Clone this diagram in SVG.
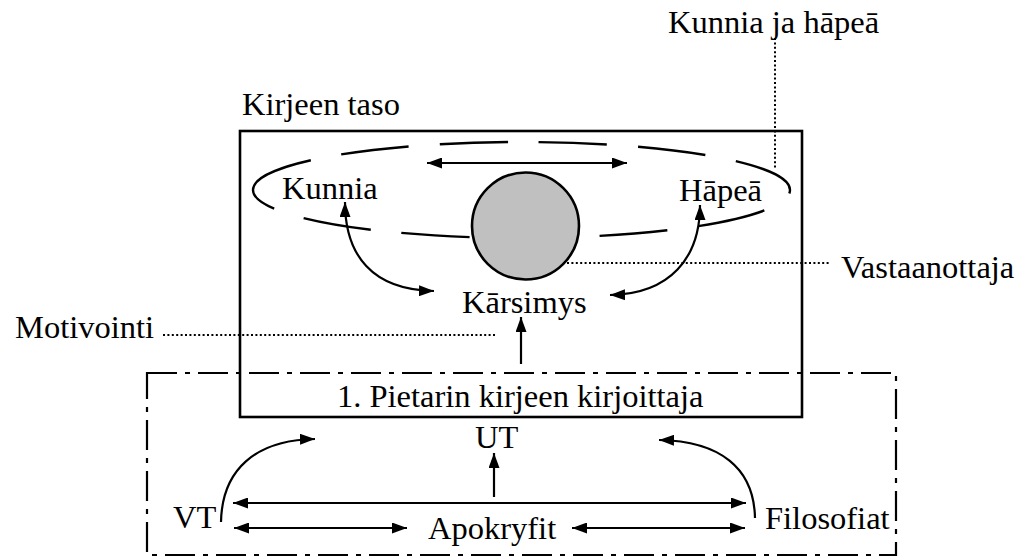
<svg xmlns="http://www.w3.org/2000/svg" width="1021" height="556" viewBox="0 0 1021 556">
<defs>
<marker id="ah" viewBox="0 0 15 11" refX="15" refY="5.5" markerWidth="15" markerHeight="11" markerUnits="userSpaceOnUse" orient="auto-start-reverse">
<path d="M0,0 L15,5.5 L0,11 Z" fill="#000"/>
</marker>
<style>
text{font-family:"Liberation Serif","Times New Roman",serif;font-size:32.5px;fill:#000}
.ln{fill:none;stroke:#000;stroke-width:2.2}
.arr{fill:none;stroke:#000;stroke-width:2.2;marker-end:url(#ah)}
.dbl{fill:none;stroke:#000;stroke-width:2.2;marker-start:url(#ah);marker-end:url(#ah)}
.dot{fill:none;stroke:#000;stroke-width:2;stroke-dasharray:2 2.4}
</style>
</defs>
<rect width="1021" height="556" fill="#fff"/>
<g id="outer-frame">
<rect x="147" y="373" width="749" height="182" fill="none" stroke="#000" stroke-width="2.2" stroke-dasharray="30 8 5 8"/>
</g>
<g id="letter-level">
<rect x="240" y="131" width="562" height="286" fill="none" stroke="#000" stroke-width="2.6"/>
<text x="242" y="115">Kirjeen taso</text>
</g>
<g id="honor-shame-ellipse">
<path d="M253,190 A268.5,48 0 1 1 790,190 A268.5,48 0 1 1 253,190" fill="none" stroke="#000" stroke-width="2.4" stroke-dasharray="68 31"/>
</g>
<g id="recipient">
<circle cx="525.5" cy="226" r="53.5" fill="#c0c0c0" stroke="#000" stroke-width="2.6"/>
</g>
<g id="kunnia"><text x="282" y="199">Kunnia</text></g>
<g id="hapea"><text x="679" y="201">Hāpeā</text></g>
<g id="karsimys"><text x="462" y="313">Kārsimys</text></g>
<g id="kunnia-ja-hapea"><text x="668" y="33">Kunnia ja hāpeā</text></g>
<g id="vastaanottaja"><text x="841" y="278">Vastaanottaja</text></g>
<g id="motivointi"><text x="15" y="338">Motivointi</text></g>
<g id="kirjoittaja"><text x="337" y="407">1. Pietarin kirjeen kirjoittaja</text></g>
<g id="ut"><text x="475" y="448">UT</text></g>
<g id="vt"><text x="173" y="528">VT</text></g>
<g id="apokryfit"><text x="428" y="539">Apokryfit</text></g>
<g id="filosofiat"><text x="765" y="529">Filosofiat</text></g>
<g id="connectors">
<path class="dot" d="M775,38 V170"/>
<path class="dot" d="M567,263 H830"/>
<path class="dot" d="M163,335 H497"/>
<path class="dbl" d="M427,163 H627"/>
<path class="dbl" d="M345,202 C345,255 372,290 434,291"/>
<path class="dbl" d="M700,205 C700,258 670,294 610,295"/>
<path class="arr" d="M521,364 V317"/>
<path class="arr" d="M494,497 V453"/>
<path class="arr" d="M221,522 C222,470 255,440 315,439"/>
<path class="arr" d="M755,518 C754,468 720,441 659,440"/>
<path class="dbl" d="M233,503 H746"/>
<path class="dbl" d="M234,528 H407"/>
<path class="dbl" d="M572,528 H745"/>
</g>
</svg>
